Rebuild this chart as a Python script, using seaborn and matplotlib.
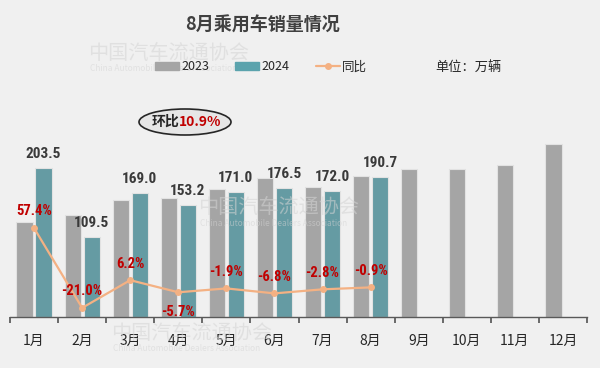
import numpy as np
import pandas as pd
import seaborn as sns
import matplotlib.pyplot as plt
from matplotlib.patches import Ellipse, Patch
from matplotlib.lines import Line2D

months = ['1月', '2月', '3月', '4月', '5月', '6月', '7月', '8月', '9月', '10月', '11月', '12月']
sales_2023 = [129.3, 138.6, 159.1, 162.5, 174.3, 189.4, 177.0, 192.4, 201.8, 202.0, 208.0, 236.0]
sales_2024 = [203.5, 109.5, 169.0, 153.2, 171.0, 176.5, 172.0, 190.7, None, None, None, None]
yoy = [57.4, -21.0, 6.2, -5.7, -1.9, -6.8, -2.8, -0.9]
mom_text = '10.9%'

GRAY = '#A5A5A5'
TEAL = '#5BA3AD'
LINE = '#F4B183'
RED = '#C00000'
BG = '#F0F0F0'

sns.set_theme(style='white')
plt.rcParams['font.family'] = ['Noto Sans CJK SC', 'DejaVu Sans']
num_font = ['Roboto Condensed', 'DejaVu Sans']

df = pd.DataFrame({
    'month': months * 2,
    'year': ['2023'] * 12 + ['2024'] * 12,
    'sales': sales_2023 + sales_2024,
})

fig = plt.figure(figsize=(6, 3.68), dpi=100, facecolor=BG)
ax = fig.add_axes([0.0167, 0.1386, 0.9616, 0.597])
ax.set_facecolor('none')

# faint watermarks
for wx, wy in [(0.147, 0.84), (0.33, 0.42), (0.185, 0.08)]:
    fig.text(wx, wy, '中国汽车流通协会', fontsize=14.5, color='#D4D4D4', alpha=0.55, zorder=0)
    fig.text(wx + 0.003, wy - 0.033, 'China Automobile Dealers Association', fontsize=6,
             color='#D4D4D4', alpha=0.55, zorder=0)

sns.barplot(data=df, x='month', y='sales', hue='year', order=months,
            palette=[GRAY, TEAL], width=0.79, gap=0.15, ax=ax,
            edgecolor='#E2E2E2', linewidth=0.8, legend=False)
ax.set_ylim(0, 300)
ax.set_xlim(-0.5, 11.5)

# value labels above 2024 bars
half = 0.79 / 4
for i, v in enumerate(sales_2024):
    if v is None:
        continue
    ax.annotate(f'{v:.1f}', (i + half, v), xytext=(0, 10), textcoords='offset points',
                ha='center', va='center', fontsize=11, fontweight='bold',
                fontstretch='condensed', color='#3A3A3A', family=num_font)

# axes styling
for s in ['left', 'right', 'top']:
    ax.spines[s].set_visible(False)
ax.spines['bottom'].set_color('#595959')
ax.spines['bottom'].set_linewidth(1.0)
ax.set_yticks([])
ax.set_xticks(np.arange(-0.5, 12, 1))
ax.set_xticklabels([])
ax.tick_params(axis='x', which='major', length=4, color='#595959', direction='out', bottom=True)
ax.set_xticks(np.arange(12), minor=True)
ax.set_xticklabels(months, minor=True, fontsize=10, color='#262626')
ax.tick_params(axis='x', which='minor', length=0, pad=12)
ax.set_xlabel('')
ax.set_ylabel('')

# YoY line on twin axis
ax2 = ax.twinx()
line_df = pd.DataFrame({'x': np.arange(len(yoy)), 'yoy': yoy})
sns.lineplot(data=line_df, x='x', y='yoy', ax=ax2, color=LINE, linewidth=1.6,
             marker='o', markersize=5, markeredgewidth=0)
ax2.set_ylim(-30, 186)
ax2.set_xlim(-0.5, 11.5)
ax2.set_yticks([])
ax2.set_xlabel('')
ax2.set_ylabel('')
for s in ax2.spines.values():
    s.set_visible(False)

for i, v in enumerate(yoy):
    dy = -14 if v == -5.7 else 12
    ax2.annotate(f'{v:.1f}%', (i, v), xytext=(0, dy), textcoords='offset points',
                 ha='center', va='center', fontsize=10.5, fontweight='bold',
                 fontstretch='condensed', color=RED, family=num_font)

# title, legend, unit
fig.text(0.437, 0.932, '8月乘用车销量情况', ha='center', va='center',
         fontsize=13, fontweight='bold', color='#404040')

handles = [Patch(color=GRAY, label='2023'), Patch(color=TEAL, label='2024'),
           Line2D([0], [0], color=LINE, lw=1.6, marker='o', markersize=4, label='同比')]
fig.legend(handles=handles, loc='center', bbox_to_anchor=(0.435, 0.818), ncol=3,
           frameon=False, fontsize=9, handlelength=1.9, handleheight=0.6,
           columnspacing=2.1, handletextpad=0.2, labelcolor='#262626')
fig.text(0.78, 0.818, '单位：万辆', ha='center', va='center', fontsize=9.5, color='#262626')

# month-on-month ellipse
ex, ey = 185 / 600, 1 - 122 / 368
fig.add_artist(Ellipse((ex, ey), 92 / 600, 26 / 368, transform=fig.transFigure,
                       facecolor='#E6E6E6', edgecolor='#262626', linewidth=1.2))
fig.text(ex - 0.01, ey, '环比', ha='right', va='center', fontsize=10,
         fontweight='bold', color='#262626')
fig.text(ex - 0.01, ey, mom_text, ha='left', va='center', fontsize=10,
         fontweight='bold', color=RED)

fig.savefig('out.png', dpi=100, facecolor=BG)
